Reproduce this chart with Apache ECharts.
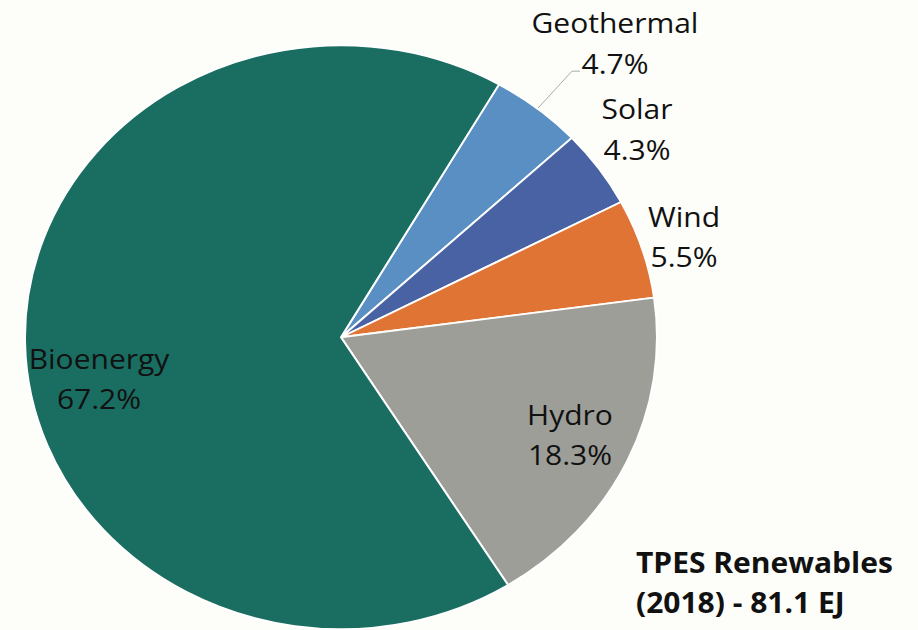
<!DOCTYPE html>
<html>
<head>
<meta charset="utf-8">
<title>TPES Renewables (2018)</title>
<script src="https://cdn.jsdelivr.net/npm/echarts@6/dist/echarts.min.js"></script>
<style>
  html, body { margin: 0; padding: 0; background: #fdfdf9; overflow: hidden; }
  #wrap { width: 918px; height: 630px; overflow: hidden; }
  /* the chart is laid out on a taller canvas and flattened vertically */
  #chart { width: 918px; height: 682px; transform: scaleY(0.924); transform-origin: 0 0; }
</style>
</head>
<body>
<div id="wrap"><div id="chart"></div></div>
<script>
// Share of total primary energy supply from renewables, 2018 (%)
const categories = ['Geothermal', 'Solar', 'Wind', 'Hydro', 'Bioenergy'];
const shares = [4.7, 4.3, 5.5, 18.3, 67.2];
const titleLines = ['TPES Renewables', '(2018) - 81.1 EJ'];

// slice colours, in the same order as the categories
const palette = ['#5a8fc4', '#4862a3', '#e07434', '#9e9e99', '#1a6e61'];

// where each two-line label block is centred
const labelAnchors = {
  Geothermal: [615, 46],
  Solar: [637, 139],
  Wind: [684, 255],
  Hydro: [570, 470],
  Bioenergy: [99, 409]
};

const FONT = '"Open Sans", "Noto Sans", sans-serif';

const chart = echarts.init(document.getElementById('chart'), null, { renderer: 'svg' });

chart.setOption({
  backgroundColor: '#fdfdf9',
  animation: false,
  title: {
    text: titleLines.join('\n'),
    left: 636,
    top: 586,
    padding: 0,
    textStyle: {
      fontFamily: FONT,
      fontSize: 30,
      fontWeight: 'bold',
      lineHeight: 44,
      color: '#111111'
    }
  },
  series: [{
    type: 'pie',
    center: [341, 365],
    radius: 316,
    startAngle: 60,
    clockwise: true,
    avoidLabelOverlap: false,
    itemStyle: { borderColor: '#ffffff', borderWidth: 2 },
    label: {
      show: true,
      position: 'inside',
      formatter: '{b}\n{c}%',
      fontFamily: FONT,
      fontSize: 30,
      lineHeight: 43.5,
      color: '#111111',
      align: 'center'
    },
    labelLine: { show: false },
    labelLayout: function (params) {
      const name = categories[params.dataIndex];
      const a = labelAnchors[name];
      const out = { x: a[0], y: a[1], align: 'center', verticalAlign: 'middle' };
      if (name === 'Geothermal' && params.labelLinePoints) {
        const p0 = params.labelLinePoints[0];
        out.labelLinePoints = [[p0[0], p0[1]], [572, 77], [580, 77]];
      }
      return out;
    },
    data: categories.map(function (name, i) {
      const item = {
        name: name,
        value: shares[i],
        itemStyle: { color: palette[i] }
      };
      if (name === 'Geothermal') {
        item.label = { position: 'outside' };
        item.labelLine = {
          show: true,
          length: 20,
          length2: 10,
          lineStyle: { color: '#a6a6a6', width: 1 }
        };
      }
      return item;
    })
  }]
});
</script>
</body>
</html>
